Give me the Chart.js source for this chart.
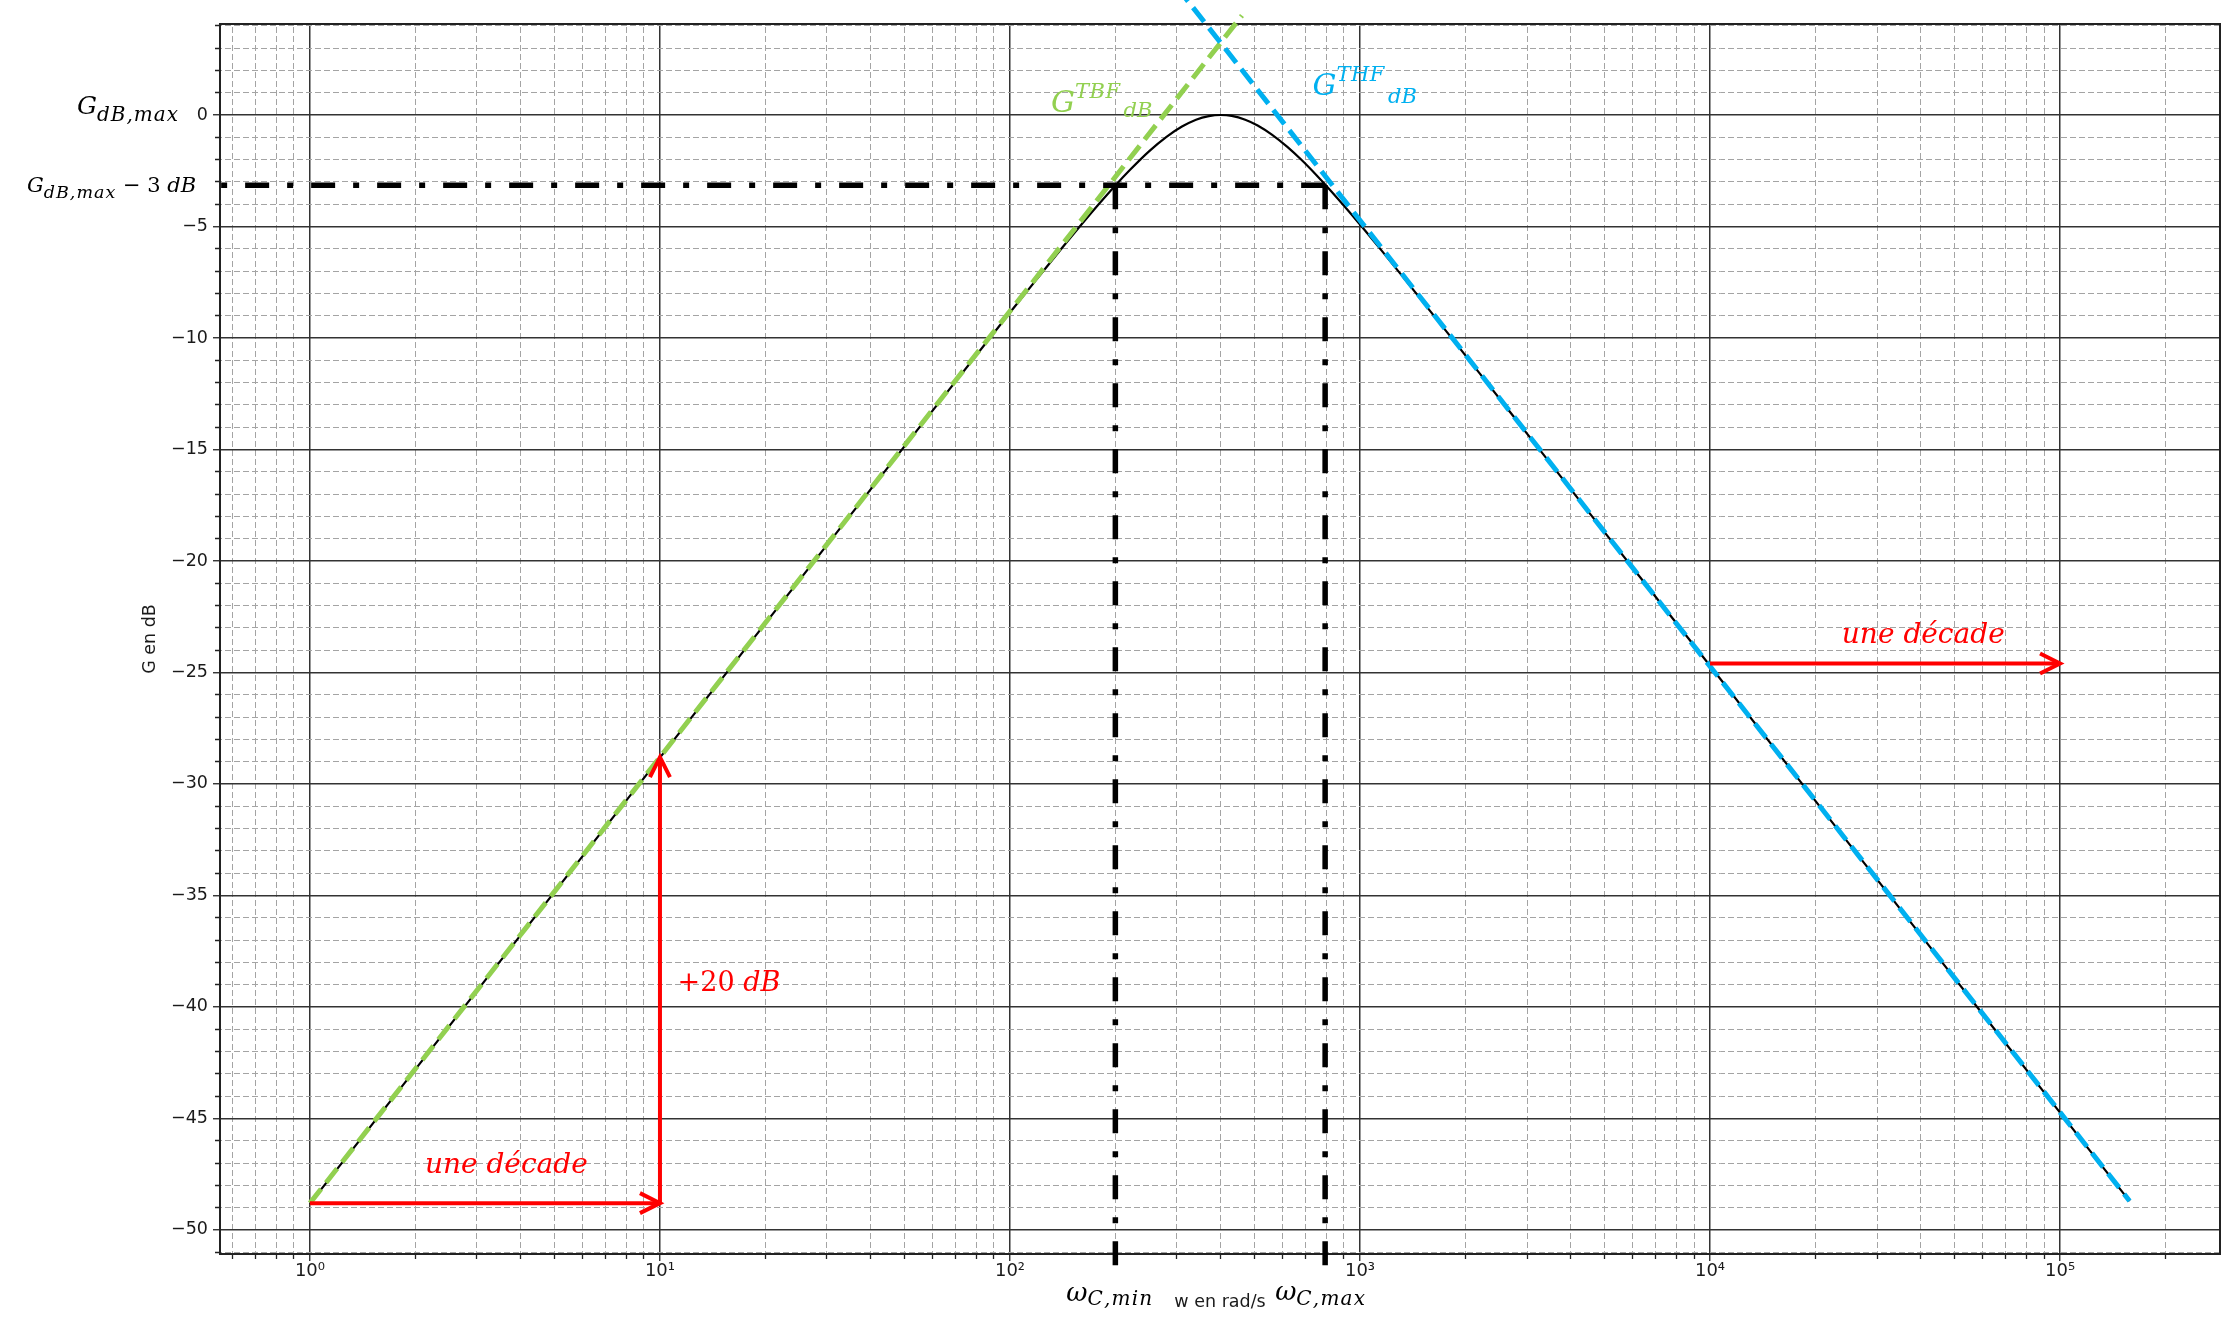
<!DOCTYPE html>
<html>
<head>
<meta charset="utf-8">
<script src="https://cdn.jsdelivr.net/npm/chart.js@4.4.1/dist/chart.umd.min.js"></script>
<style>
  html, body { margin: 0; padding: 0; background: #ffffff; }
  #c { display: block; }
</style>
</head>
<body>
<canvas id="c" width="2229" height="1326"></canvas>
<script>
// ===================== DATA =====================
// Band-pass gain curve: angular frequency (rad/s) and gain (dB)
const omega  = [1, 2, 5, 10, 20, 50, 100, 120, 140, 160, 180, 200, 220, 250, 280, 310, 340, 370, 400,
                430, 470, 510, 560, 620, 680, 750, 820, 900, 1000, 1150, 1300, 1500, 1800, 2200, 3000,
                5000, 10000, 20000, 50000, 100000, 158000];
const gainDB = [-48.82, -42.80, -34.84, -28.82, -22.80, -14.85, -8.86, -7.31, -6.01, -4.91, -3.97, -3.16,
                -2.47, -1.62, -0.98, -0.52, -0.21, -0.05, 0, -0.04, -0.21, -0.47, -0.88, -1.43, -2.01,
                -2.69, -3.35, -4.07, -4.91, -6.06, -7.09, -8.31, -9.87, -11.60, -14.29, -18.72, -24.70,
                -30.76, -38.72, -44.74, -48.71];

// Low-frequency asymptote (G^TBF_dB) and high-frequency asymptote (G^THF_dB)
const tbfOmega = [1, 460];
const tbfGain  = [-48.8, 4.46];
const thfOmega = [300, 158000];
const thfGain  = [5.73, -48.7];

// -3 dB level and cut-off pulsations
const cutoffLevel = -3.15;
const omegaCmin = 200;
const omegaCmax = 795;
const levelLineOmega = [795, 0.5534];       // from ωC,max back to the left edge
const markerLevels   = [-3.15, -51.6];      // vertical markers from -3 dB down past the axis

// Red construction arrows
const decade1Omega = [1, 10];
const decade1Gain  = [-48.8, -48.8];
const rise20Omega  = [10, 10];
const rise20Gain   = [-48.8, -28.8];
const decade2Omega = [10000, 100000];
const decade2Gain  = [-24.6, -24.6];

// Axes
const xMin = 0.5534, xMax = 286400;
const yMin = -51.08, yMax = 4.08;
const xMajorTicks = [1, 10, 100, 1000, 10000, 100000];
const xTickLabels = ['10\u2070', '10\u00B9', '10\u00B2', '10\u00B3', '10\u2074', '10\u2075'];
const yMajorTicks = [0, -5, -10, -15, -20, -25, -30, -35, -40, -45, -50];
const yTickLabels = ['0', '\u22125', '\u221210', '\u221215', '\u221220', '\u221225', '\u221230', '\u221235', '\u221240', '\u221245', '\u221250'];
const xTitle = 'w en rad/s';
const yTitle = 'G en dB';

// ===================== STYLE =====================
const RED = '#ff0000', GREEN = '#92d050', BLUE = '#00b0f0';
const MAJOR_GRID = '#333333';
const SPINE = '#222222';
const TEXT = '#1a1a1a';

Chart.defaults.font.family = '"DejaVu Sans"';
Chart.defaults.color = TEXT;

const zip = (xs, ys) => xs.map((v, i) => ({ x: v, y: ys[i] }));

// minor tick positions (log decades 2..9, and every dB)
const xTickValues = [];
for (let e = -1; e <= 5; e++) {
  for (let m = 1; m <= 9; m++) {
    const v = m * Math.pow(10, e);
    if (v >= xMin && v <= xMax) xTickValues.push(v);
  }
}
const yTickValues = [];
for (let v = Math.ceil(yMin); v <= Math.floor(yMax); v++) yTickValues.push(v);

const isMajorX = v => Math.abs(Math.log10(v) - Math.round(Math.log10(v))) < 1e-9;
const isMajorY = v => Math.abs(v / 5 - Math.round(v / 5)) < 1e-9;

const canvas = document.getElementById('c');
const ctx0 = canvas.getContext('2d');
function dashPattern(vertical, on, off, color) {
  const t = document.createElement('canvas');
  t.width = vertical ? 1 : on + off;
  t.height = vertical ? on + off : 1;
  const g = t.getContext('2d');
  g.fillStyle = color;
  if (vertical) g.fillRect(0, 0, 1, on); else g.fillRect(0, 0, on, 1);
  return ctx0.createPattern(t, 'repeat');
}
const minorV = dashPattern(true, 6, 3, '#a4a4a4');
const minorH = dashPattern(false, 6, 3, '#a4a4a4');

// ===================== ANNOTATIONS =====================
const serif = '"DejaVu Serif"';
const annotations = [
  { color: '#000', xRef: 'left', dx: -143, yv: 0, dy: -1,
    runs: [{ t: 'G', size: 25 }, { t: 'dB,max', size: 20, dy: 7.5, ls: 1 }] },
  { color: '#000', xRef: 'left', dx: -193, yv: cutoffLevel, dy: 6.5,
    runs: [{ t: 'G', size: 21 }, { t: 'dB,max', size: 17.5, dy: 6.6, ls: 1 },
           { t: ' \u2212 3 ', size: 21, italic: false }, { t: 'dB', size: 21 }] },
  { color: '#000', xv: omegaCmin, dx: -49, yRef: 'bottom', dy: 47,
    runs: [{ t: '\u03C9', size: 26 }, { t: 'C,min', size: 20, dy: 4, ls: 1.2 }] },
  { color: '#000', xv: omegaCmax, dx: -50, yRef: 'bottom', dy: 46,
    runs: [{ t: '\u03C9', size: 26 }, { t: 'C,max', size: 20, dy: 5, ls: 1.2 }] },
  { color: GREEN, xv: 131, yv: 0.15, dy: 0,
    runs: [{ t: 'G', size: 30 }, { t: 'TBF', size: 21, dy: -14, ls: 0.5 }, { t: 'dB', size: 21, dy: 5, gap: 3 }] },
  { color: BLUE, xv: 732, yv: 0.9, dy: 0,
    runs: [{ t: 'G', size: 30 }, { t: 'THF', size: 21, dy: -14, ls: 0.5 }, { t: 'dB', size: 21, dy: 8, gap: 3 }] },
  { color: RED, xv: 2.13, yv: -47.43, dy: 0,
    runs: [{ t: 'une d\u00E9cade', size: 28 }] },
  { color: RED, xv: 11.23, yv: -39.27, dy: 0,
    runs: [{ t: '+20 ', size: 27, italic: false }, { t: 'dB', size: 27 }] },
  { color: RED, xv: 23800, yv: -23.69, dy: 0,
    runs: [{ t: 'une d\u00E9cade', size: 28 }] }
];

function drawRuns(ctx, x, y, runs, color) {
  let cx = x;
  ctx.fillStyle = color;
  ctx.textBaseline = 'alphabetic';
  ctx.textAlign = 'left';
  for (const r of runs) {
    cx += r.gap || 0;
    ctx.font = (r.italic === false ? '' : 'italic ') + r.size + 'px ' + serif;
    for (const ch of r.t) {
      ctx.fillText(ch, cx, y + (r.dy || 0));
      cx += ctx.measureText(ch).width + (r.ls || 0);
    }
  }
}

const annotPlugin = {
  id: 'annot',
  afterDatasetsDraw(chart) {
    const ctx = chart.ctx;
    chart.data.datasets.forEach((ds, i) => {
      if (!ds.arrow) return;
      const pts = chart.getDatasetMeta(i).data;
      const a = pts[pts.length - 2], b = pts[pts.length - 1];
      const ang = Math.atan2(b.y - a.y, b.x - a.x);
      const c = Math.cos(ang), s = Math.sin(ang);
      const L = 20, W = 10;
      ctx.save();
      ctx.strokeStyle = ds.borderColor;
      ctx.lineWidth = ds.borderWidth;
      ctx.lineJoin = 'miter';
      ctx.lineCap = 'butt';
      ctx.beginPath();
      ctx.moveTo(b.x - L * c - W * s, b.y - L * s + W * c);
      ctx.lineTo(b.x, b.y);
      ctx.lineTo(b.x - L * c + W * s, b.y - L * s - W * c);
      ctx.stroke();
      ctx.restore();
    });
  },
  afterDraw(chart) {
    const ctx = chart.ctx;
    const xs = chart.scales.x, ys = chart.scales.y, area = chart.chartArea;
    ctx.save();
    for (const a of annotations) {
      const px = (a.xRef === 'left' ? area.left : xs.getPixelForValue(a.xv)) + (a.dx || 0);
      const py = (a.yRef === 'bottom' ? area.bottom : ys.getPixelForValue(a.yv)) + (a.dy || 0);
      drawRuns(ctx, px, py, a.runs, a.color);
    }
    ctx.restore();
  }
};

// ===================== CHART =====================
const lineDefaults = { pointRadius: 0, fill: false, tension: 0 };

new Chart(canvas, {
  type: 'line',
  data: {
    datasets: [
      { ...lineDefaults, data: zip(decade1Omega, decade1Gain), borderColor: RED, borderWidth: 4, arrow: true, clip: false },
      { ...lineDefaults, data: zip(rise20Omega, rise20Gain), borderColor: RED, borderWidth: 4, arrow: true, clip: false },
      { ...lineDefaults, data: zip(decade2Omega, decade2Gain), borderColor: RED, borderWidth: 4, arrow: true, clip: false },
      { ...lineDefaults, data: zip(levelLineOmega, [cutoffLevel, cutoffLevel]), borderColor: '#000', borderWidth: 5.5,
        borderDash: [24, 18, 6, 18], clip: false },
      { ...lineDefaults, data: zip([omegaCmin, omegaCmin], markerLevels), borderColor: '#000', borderWidth: 5.5,
        borderDash: [24, 18, 6, 18], clip: false },
      { ...lineDefaults, data: zip([omegaCmax, omegaCmax], markerLevels), borderColor: '#000', borderWidth: 5.5,
        borderDash: [24, 18, 6, 18], clip: false },
      { ...lineDefaults, data: zip(thfOmega, thfGain), borderColor: BLUE, borderWidth: 5, borderDash: [18, 8], clip: false },
      { ...lineDefaults, data: zip(tbfOmega, tbfGain), borderColor: GREEN, borderWidth: 5, borderDash: [18, 8], clip: false },
      { ...lineDefaults, data: zip(omega, gainDB), borderColor: '#000', borderWidth: 2.2, cubicInterpolationMode: 'monotone' }
    ]
  },
  options: {
    responsive: false,
    animation: false,
    devicePixelRatio: 1,
    events: [],
    layout: { padding: { top: 24, right: 9, left: 0, bottom: 0 } },
    plugins: { legend: { display: false }, tooltip: { enabled: false } },
    scales: {
      x: {
        type: 'logarithmic', position: 'bottom', min: xMin, max: xMax, bounds: 'data',
        afterFit: s => { s.height = 72; },
        afterBuildTicks: s => { s.ticks = xTickValues.map(v => ({ value: v })); },
        ticks: {
          autoSkip: false, maxRotation: 0, minRotation: 0, padding: 0,
          font: { size: 18 }, color: TEXT,
          callback: v => {
            if (!isMajorX(v)) return '';
            const k = xMajorTicks.indexOf(Math.round(v));
            return k >= 0 ? xTickLabels[k] : '';
          }
        },
        grid: {
          color: c => (c.tick && isMajorX(c.tick.value)) ? MAJOR_GRID : minorV,
          lineWidth: c => (c.tick && isMajorX(c.tick.value)) ? 1.5 : 1,
          tickColor: SPINE, tickWidth: 1.3, tickLength: 7,
          tickBorderDash: c => (c.tick && !isMajorX(c.tick.value)) ? [4, 30] : []
        },
        border: { display: true, color: SPINE, width: 2 },
        title: { display: true, text: xTitle, color: TEXT, font: { size: 17.5 }, padding: { top: 0, bottom: 13.5 } }
      },
      y: {
        type: 'linear', position: 'left', min: yMin, max: yMax, bounds: 'data',
        afterFit: s => { s.width = 220; },
        afterBuildTicks: s => { s.ticks = yTickValues.map(v => ({ value: v })); },
        ticks: {
          autoSkip: false, padding: 5, font: { size: 17.5 }, color: TEXT,
          callback: v => {
            const k = yMajorTicks.indexOf(Math.round(v));
            return (isMajorY(v) && k >= 0) ? yTickLabels[k] : '';
          }
        },
        grid: {
          color: c => (c.tick && isMajorY(c.tick.value)) ? MAJOR_GRID : minorH,
          lineWidth: c => (c.tick && isMajorY(c.tick.value)) ? 1.5 : 1,
          tickColor: SPINE, tickWidth: 1.3, tickLength: 7,
          tickBorderDash: c => (c.tick && !isMajorY(c.tick.value)) ? [0, 2, 10, 30] : []
        },
        border: { display: true, color: SPINE, width: 2 },
        title: { display: true, text: yTitle, color: TEXT, font: { size: 17.5 }, padding: { top: 140, bottom: 0 } }
      },
      xTop: {
        type: 'logarithmic', position: 'top', min: xMin, max: xMax, display: true,
        afterFit: s => { s.height = 0; },
        ticks: { display: false },
        grid: { display: true, drawOnChartArea: false, drawTicks: false },
        border: { display: true, color: SPINE, width: 2 }
      },
      yRight: {
        type: 'linear', position: 'right', min: yMin, max: yMax, display: true,
        afterFit: s => { s.width = 0; },
        ticks: { display: false },
        grid: { display: true, drawOnChartArea: false, drawTicks: false },
        border: { display: true, color: SPINE, width: 2 }
      }
    }
  },
  plugins: [annotPlugin]
});
</script>
</body>
</html>
